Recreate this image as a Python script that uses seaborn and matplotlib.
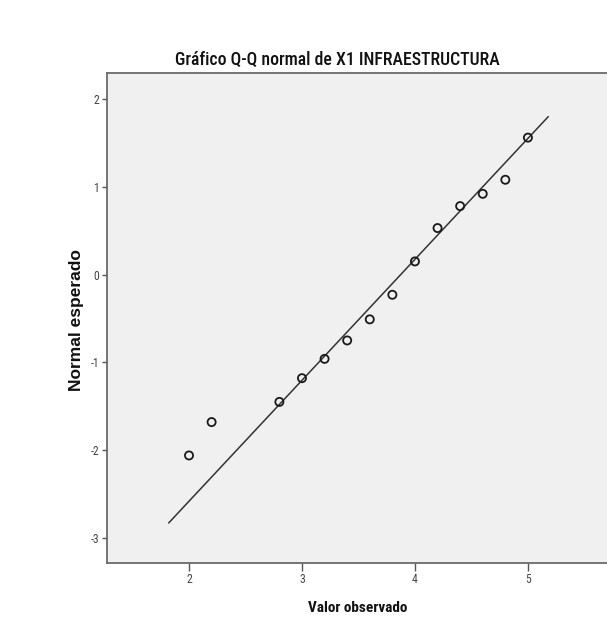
import matplotlib
matplotlib.use("Agg")
import matplotlib.pyplot as plt
import seaborn as sns
import numpy as np
import pandas as pd

# ---- data ----
observed = [2.0, 2.2, 2.8, 3.0, 3.2, 3.4, 3.6, 3.8, 4.0, 4.2, 4.4, 4.6, 4.8, 5.0]
expected = [-2.06, -1.68, -1.45, -1.18, -0.96, -0.75, -0.51, -0.23, 0.15, 0.53, 0.78, 0.92, 1.08, 1.56]
line_x = [1.82, 5.18]
mu, sigma = 3.874, 0.726
x_ticks = [2, 3, 4, 5]
y_ticks = [-3, -2, -1, 0, 1, 2]
title = "Gráfico Q-Q normal de X1 INFRAESTRUCTURA"
xlabel = "Valor observado"
ylabel = "Normal esperado"

narrow = ["Roboto Condensed", "DejaVu Sans"]

sns.set_style("white")
plt.rcParams['font.family'] = ['Liberation Sans', 'DejaVu Sans']

fig = plt.figure(figsize=(6.07, 6.36), dpi=100)
ax = fig.add_axes([107/607, 1-563/636, 500/607, 490/636])
ax.set_facecolor("#f0f0f0")

pts = pd.DataFrame({"obs": observed, "exp": expected})
ln = pd.DataFrame({"x": line_x, "y": [(v - mu) / sigma for v in line_x]})

sns.lineplot(data=ln, x="x", y="y", ax=ax, color="#333333", linewidth=1.1)
sns.scatterplot(data=pts, x="obs", y="exp", ax=ax, s=34, marker="o",
                facecolor="none", edgecolor="#1a1a1a", linewidth=1.3, zorder=3)

ax.set_xlim(1.274, 5.70)
ax.set_ylim(-3.285, 2.296)
ax.set_xticks(x_ticks)
ax.set_yticks(y_ticks)
ax.set_xticklabels([str(t) for t in x_ticks], fontfamily=narrow, fontsize=8.5, color="#444444")
ax.set_yticklabels([str(t) for t in y_ticks], fontfamily=narrow, fontsize=8.5, color="#444444")
ax.tick_params(axis="x", direction="out", length=5.5, width=1, color="#555555", pad=2, bottom=True)
ax.tick_params(axis="y", direction="out", length=3.5, width=1, color="#555555", pad=2, left=True)
for s in ["top", "left", "bottom"]:
    ax.spines[s].set_color("#6a6a6a")
    ax.spines[s].set_linewidth(1.3)
ax.spines["right"].set_visible(False)
ax.set_xlabel("")
ax.set_ylabel("")

fig.text(337/607, 1-65/636, title, ha="center", va="baseline", fontfamily=narrow,
         fontsize=12.8, fontweight=500, color="#111111")
fig.text(358/607, 1-608/636, xlabel, ha="center", va="center", fontfamily=narrow,
         fontsize=11, fontweight="bold", color="#111111")
fig.text(77/607, 1-320/636, ylabel, ha="center", va="center", rotation=90,
         fontfamily=["Liberation Sans", "DejaVu Sans"], fontsize=12.5, fontweight="bold",
         color="#111111")

fig.savefig("out.png", dpi=100, facecolor="white")
